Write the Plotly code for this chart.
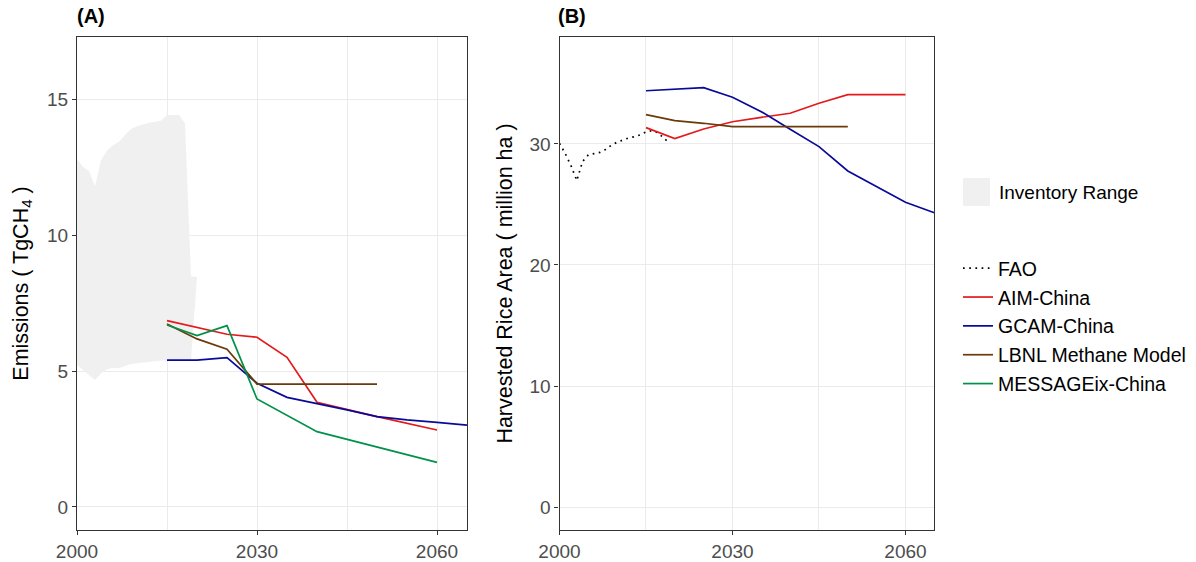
import plotly.graph_objects as go

# ---------------- data ----------------
# Panel A: emissions (TgCH4)
inv_years_upper = list(range(2000, 2021))
inv_upper = [12.8, 12.5, 12.35, 11.78, 12.76, 13.1, 13.3, 13.43, 13.68, 13.9, 14.0,
             14.07, 14.13, 14.16, 14.2, 14.41, 14.42, 14.41, 14.1, 8.47, 8.46]
inv_years_lower = list(range(2000, 2020))
inv_lower = [5.22, 5.05, 4.85, 4.67, 4.92, 5.06, 5.12, 5.10, 5.18, 5.26, 5.29,
             5.31, 5.34, 5.36, 5.38, 5.40, 5.40, 5.40, 5.40, 5.40]

aim_em_years = [2015, 2020, 2025, 2030, 2035, 2040, 2045, 2050, 2060]
aim_em = [6.85, 6.6, 6.35, 6.24, 5.50, 3.85, 3.58, 3.32, 2.83]
gcam_em_years = [2015, 2020, 2025, 2030, 2035, 2040, 2045, 2050, 2055, 2060, 2065]
gcam_em = [5.40, 5.40, 5.49, 4.55, 4.03, 3.81, 3.57, 3.32, 3.20, 3.11, 3.01]
lbnl_em_years = [2015, 2020, 2025, 2030, 2035, 2040, 2045, 2050]
lbnl_em = [6.73, 6.18, 5.80, 4.52, 4.52, 4.52, 4.52, 4.52]
msg_em_years = [2015, 2020, 2025, 2030, 2040, 2060]
msg_em = [6.69, 6.30, 6.67, 3.97, 2.77, 1.64]

# Panel B: harvested rice area (million ha)
fao_years = list(range(2000, 2020))
fao_area = [30.05, 29.2, 28.2, 26.97, 28.55, 29.1, 29.2, 29.3, 29.55, 29.9,
            30.15, 30.35, 30.5, 30.6, 30.75, 31.0, 31.1, 30.95, 30.5, 30.1]
aim_area_years = [2015, 2020, 2025, 2030, 2035, 2040, 2045, 2050, 2055, 2060]
aim_area = [31.35, 30.44, 31.24, 31.84, 32.2, 32.54, 33.36, 34.07, 34.07, 34.07]
gcam_area_years = [2015, 2020, 2025, 2030, 2035, 2040, 2045, 2050, 2055, 2060, 2065]
gcam_area = [34.4, 34.5, 34.65, 33.86, 32.67, 31.21, 29.78, 27.77, 26.47, 25.18, 24.32]
lbnl_area_years = [2015, 2020, 2025, 2030, 2035, 2040, 2045, 2050]
lbnl_area = [32.42, 31.93, 31.71, 31.43, 31.43, 31.43, 31.43, 31.43]

x_ticks = [2000, 2030, 2060]
yA_ticks = [0, 5, 10, 15]
yB_ticks = [0, 10, 20, 30]

# ---------------- styles ----------------
C_AIM = "#E31A1C"
C_GCAM = "#0A0A99"
C_LBNL = "#6B3A0A"
C_MSG = "#00914A"
C_INV = "#F0F0F0"
FONT = "Liberation Sans, Arial, sans-serif"
LW = 1.7

W, H = 1196, 562

fig = go.Figure()

# inventory range polygon
fig.add_trace(go.Scatter(
    x=inv_years_upper + inv_years_lower[::-1],
    y=inv_upper + inv_lower[::-1],
    fill="toself", fillcolor=C_INV, mode="lines", line=dict(width=0, color=C_INV),
    name="Inventory Range", showlegend=False, hoverinfo="skip",
    xaxis="x", yaxis="y"))

def line(x, y, color, name, xa, ya, show, rank, dash="solid"):
    fig.add_trace(go.Scatter(
        x=x, y=y, mode="lines", line=dict(color=color, width=LW, dash=dash),
        name=name, showlegend=show, legendgroup=name, legendrank=rank,
        xaxis=xa, yaxis=ya))

line(aim_em_years, aim_em, C_AIM, "AIM-China", "x", "y", True, 2)
line(gcam_em_years, gcam_em, C_GCAM, "GCAM-China", "x", "y", True, 3)
line(lbnl_em_years, lbnl_em, C_LBNL, "LBNL Methane Model", "x", "y", True, 4)
line(msg_em_years, msg_em, C_MSG, "MESSAGEix-China", "x", "y", True, 5)

line(fao_years, fao_area, "black", "FAO", "x2", "y2", True, 1, dash="1.7px,4.5px")
line(aim_area_years, aim_area, C_AIM, "AIM-China", "x2", "y2", False, 2)
line(gcam_area_years, gcam_area, C_GCAM, "GCAM-China", "x2", "y2", False, 3)
line(lbnl_area_years, lbnl_area, C_LBNL, "LBNL Methane Model", "x2", "y2", False, 4)

def px(v):
    return v / W

def py(v):
    return 1 - v / H

axis_common = dict(
    showline=True, mirror=True, linecolor="#333333", linewidth=1.3,
    ticks="outside", ticklen=4, tickcolor="#333333", tickwidth=1.1,
    showgrid=True, gridcolor="#EBEBEB", gridwidth=1.1, zeroline=False,
    tickfont=dict(family=FONT, size=19, color="#4D4D4D"),
    automargin=False,
)
xaxis_common = dict(axis_common, range=[2000, 2065], tickmode="array", tickvals=x_ticks,
                    minor=dict(tickmode="array", tickvals=[2015, 2045], showgrid=True,
                               gridcolor="#EBEBEB", gridwidth=1.1, ticks=""))

fig.update_layout(
    width=W, height=H,
    margin=dict(l=0, r=0, t=0, b=0),
    paper_bgcolor="white", plot_bgcolor="white",
    font=dict(family=FONT, color="black"),
    xaxis=dict(xaxis_common, domain=[px(77), px(467)], anchor="y"),
    yaxis=dict(axis_common, domain=[py(530), py(37)], range=[-0.846, 17.28],
               tickmode="array", tickvals=yA_ticks, anchor="x",
               title=dict(text="Emissions ( TgCH<sub>4</sub> )", standoff=12,
                          font=dict(family=FONT, size=21.5, color="black"))),
    xaxis2=dict(xaxis_common, domain=[px(559.5), px(934.3)], anchor="y2"),
    yaxis2=dict(axis_common, domain=[py(530), py(37)], range=[-1.9, 38.84],
                tickmode="array", tickvals=yB_ticks, anchor="x2",
                title=dict(text="Harvested Rice Area ( million ha )", standoff=10,
                           font=dict(family=FONT, size=21.5, color="black"))),
    legend=dict(
        x=px(958), y=py(249), xanchor="left", yanchor="top",
        font=dict(family=FONT, size=19.5, color="black"),
        traceorder="grouped", tracegroupgap=0.5, itemwidth=30,
        bgcolor="rgba(0,0,0,0)", borderwidth=0),
    annotations=[
        dict(text="<b>(A)</b>", x=px(75), y=py(16), xref="paper", yref="paper",
             xanchor="left", yanchor="middle", showarrow=False,
             font=dict(family=FONT, size=20, color="black")),
        dict(text="<b>(B)</b>", x=px(556), y=py(16), xref="paper", yref="paper",
             xanchor="left", yanchor="middle", showarrow=False,
             font=dict(family=FONT, size=20, color="black")),
        dict(text="Inventory Range", x=px(997), y=py(192), xref="paper", yref="paper",
             xanchor="left", yanchor="middle", showarrow=False,
             font=dict(family=FONT, size=19, color="black")),
    ],
    shapes=[
        dict(type="rect", xref="paper", yref="paper",
             x0=px(963), x1=px(990), y0=py(206), y1=py(178),
             fillcolor=C_INV, line=dict(width=0), layer="below"),
    ],
)

fig.write_html("out.html", config={"displayModeBar": False},
               post_script="document.body.style.margin='0';document.body.style.padding='0';")
